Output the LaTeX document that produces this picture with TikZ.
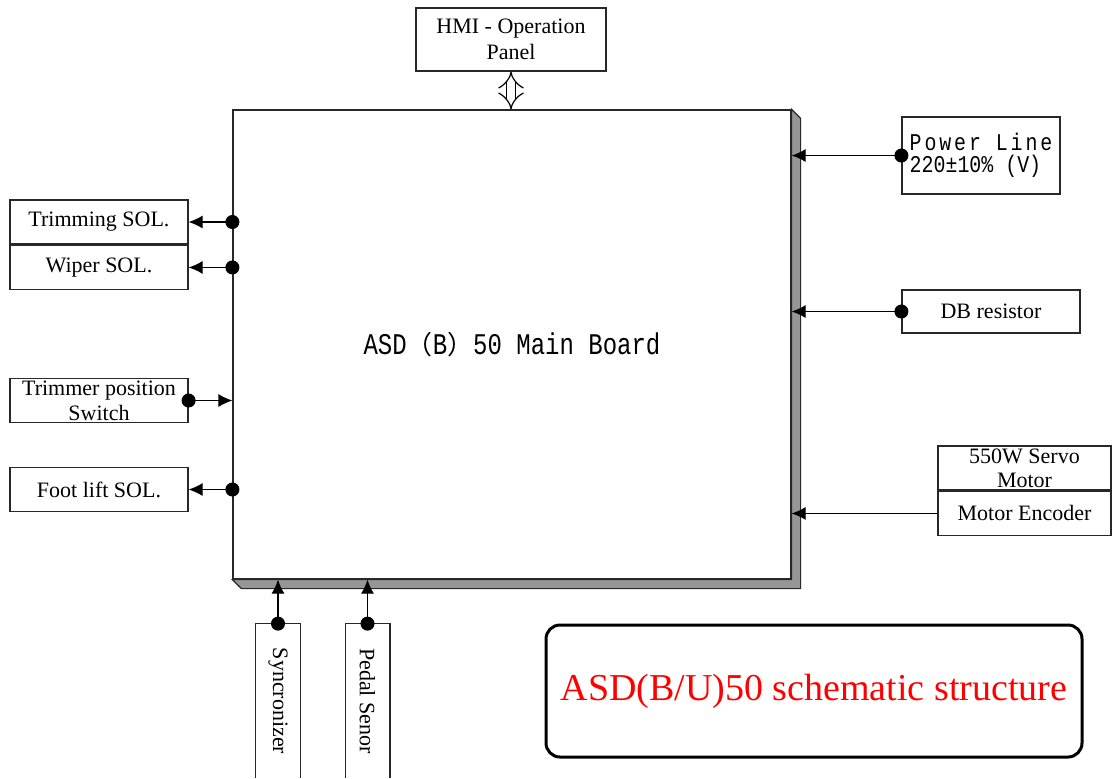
\documentclass[tikz,border=0pt]{standalone}
\usepackage{fontspec}
\setmainfont{Liberation Serif}
\newfontfamily\boardfont[FakeStretch=0.8]{Liberation Mono}
\newfontfamily\linefont[FakeStretch=0.83,LetterSpace=12]{Liberation Mono}
\newfontfamily\valuefont[FakeStretch=0.83]{Liberation Mono}
\newfontfamily\cjk{Noto Sans CJK SC}
\usetikzlibrary{
  arrows.meta,
  positioning,
  calc
}
\definecolor{shadowcolor}{RGB}{150, 150, 150}
\definecolor{titlecolor}{RGB}{255, 0, 0}
\definecolor{edgecolor}{RGB}{40, 40, 40}
\tikzset{
blocktext/.style={
  align=center,
  font=\fontsize{11pt}{13pt}\selectfont
},
sidebox/.style={
  draw=edgecolor,
  line width=0.6pt,
  fill=white,
  minimum width=89pt,
  minimum height=22.25pt,
  inner sep=0pt,
  blocktext
},
portbox/.style={
  minimum width=22pt,
  minimum height=77pt,
  inner sep=0pt,
  blocktext
},
arrow/.style={
  -{Latex[length=7pt,width=6.5pt]},
  line width=0.6pt,
  draw=black
},
dotarrow/.style={
  {Circle[length=7pt]}-{Latex[length=7pt,width=6.5pt]},
  shorten <=-3.5pt,
  line width=0.6pt,
  draw=black
}
}

\begin{document}
\begin{tikzpicture}[
      x=0.5pt, y=-0.5pt,
      mainboard/.style={
        draw=edgecolor, line width=0.6pt, fill=white,
        minimum width=279pt, minimum height=234.5pt,
        font=\boardfont\fontsize{15pt}{17pt}\selectfont
      },
      titlebox/.style={
        draw, rounded corners=7pt, line width=1.5pt,
        minimum width=268pt, minimum height=66pt,
        font=\fontsize{19pt}{22pt}\selectfont, text=titlecolor
      },
      busarr/.style={{Implies}-{Implies}, double, double distance=4pt, line width=0.6pt},
    ]
      \useasboundingbox (0,0) rectangle (1112,778);

      % Main board with its shaded edge
      \node[mainboard] (board) at (512,344.5) {ASD{\cjk\fontsize{13pt}{15pt}\selectfont （}B{\cjk\fontsize{13pt}{15pt}\selectfont ）}50 Main Board};
      \fill[shadowcolor, draw=edgecolor, line width=0.6pt]
        (board.north east) -- ++(4.5pt,-4.5pt) -- ($(board.south east)+(4.5pt,-4.5pt)$)
        -- ($(board.south west)+(4.5pt,-4.5pt)$) -- (board.south west) -- (board.south east) -- cycle;

      % Top: operation panel
      \node[sidebox, minimum width=95pt, minimum height=31.5pt] (hmi) at (511,39.5) {HMI - Operation\\Panel};

      % Right side
      \node[sidebox, minimum width=79pt, minimum height=38.5pt, align=left,
        font=\valuefont\fontsize{12pt}{11pt}\selectfont] (power) at (981,155.5)
        {{\linefont Power Line}\\220±10\% (V)};
      \node[sidebox, minimum height=21.5pt] (dbres) at (991,311.5) {DB resistor};
      \node[sidebox, minimum width=86.5pt, minimum height=22pt,
        font=\fontsize{11pt}{12pt}\selectfont] (servo) at (1024.5,468) {550W Servo\\Motor};
      \node[sidebox, minimum width=86.5pt, below=0pt of servo] (encoder) {Motor Encoder};

      % Left side
      \node[sidebox, minimum height=22pt] (trimsol) at (99,222) {Trimming SOL.};
      \node[sidebox, below=0pt of trimsol] (wipersol) {Wiper SOL.};
      \node[sidebox, font=\fontsize{11pt}{12.5pt}\selectfont] (trimsw) at (99,400.5) {Trimmer position\\Switch};
      \node[sidebox] (footsol) at (99,489.5) {Foot lift SOL.};

      % Bottom: open-ended sensor boxes
      \node[portbox] (sync) at (278,701) {\rotatebox{-90}{Syncronizer}};
      \node[portbox] (pedal) at (367.5,701) {\rotatebox{-90}{Pedal Senor}};
      \draw[draw=edgecolor, line width=0.6pt] (sync.south west) -- (sync.north west) -- (sync.north east) -- (sync.south east);
      \draw[draw=edgecolor, line width=0.6pt] (pedal.south west) -- (pedal.north west) -- (pedal.north east) -- (pedal.south east);

      % Title
      \node[titlebox] (title) at (814,691) {ASD(B/U)50 schematic structure};

      % Connectors
      \draw[busarr] (hmi.south) -- (hmi.south |- board.north);
      \draw[dotarrow] (power.west) -- (power.west -| board.east);
      \draw[dotarrow] (dbres.west) -- (dbres.west -| board.east);
      \draw[arrow] (encoder.west) -- (encoder.west -| board.east);
      \draw[dotarrow] (trimsol.east -| board.west) -- (trimsol.east);
      \draw[dotarrow] (wipersol.east -| board.west) -- (wipersol.east);
      \draw[dotarrow] (trimsw.east) -- (trimsw.east -| board.west);
      \draw[dotarrow] (footsol.east -| board.west) -- (footsol.east);
      \draw[dotarrow] (sync.north) -- (sync.north |- board.south);
      \draw[dotarrow] (pedal.north) -- (pedal.north |- board.south);
    \end{tikzpicture}
\end{document}
